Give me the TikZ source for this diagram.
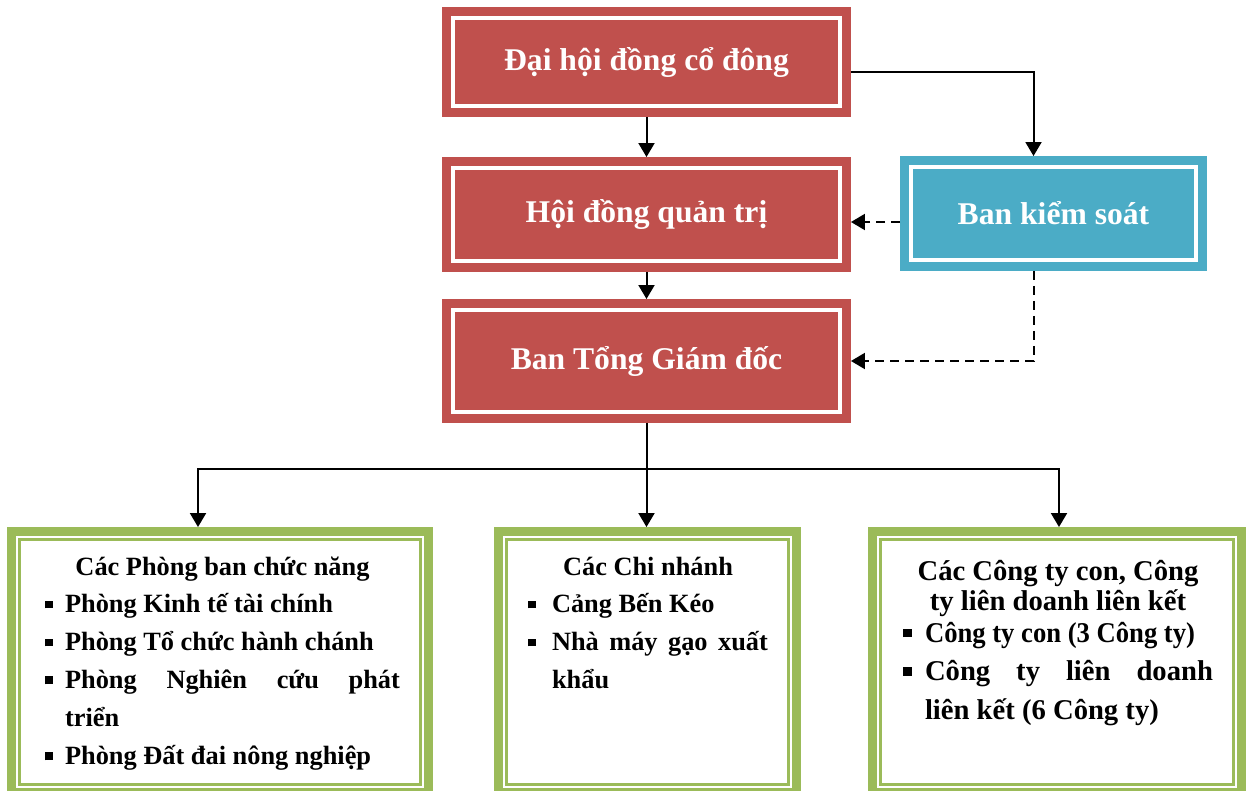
\documentclass[tikz,border=0pt]{standalone}
\usepackage{fontspec}
\setmainfont{Liberation Serif}
\usepackage{tikz}
\definecolor{boxred}{HTML}{C0504D}
\definecolor{boxblue}{HTML}{4BACC6}
\definecolor{boxgreen}{HTML}{9BBB59}
\usetikzlibrary{positioning, arrows.meta}
\tikzstyle{arrow} = [line width=0.04cm,-{Triangle[length=0.28cm,width=0.32cm]}]
\tikzstyle{dasharrow} = [arrow, dash pattern=on 0.18cm off 0.12cm]
\newcommand{\bitem}[2][0.4cm]{\par\hangindent=#1\hangafter=1\noindent\makebox[#1][l]{\rule[0.17em]{0.3em}{0.3em}}#2\par}

\begin{document}
\begin{tikzpicture}[x=0.02cm, y=-0.02cm]
                    \tikzstyle{every node}=[font=\bfseries]
                    \tikzstyle{redbox} = [draw=boxred, fill=boxred, double=white, double distance=0.08cm, line width=0.18cm, outer sep=0.22cm, text=white, minimum width=7.74cm, font=\fontsize{18pt}{21pt}\selectfont\bfseries]
                    \tikzstyle{bluebox} = [redbox, draw=boxblue, fill=boxblue, minimum width=5.7cm]
                    \tikzstyle{greenbox} = [draw=boxgreen, fill=white, line width=0.18cm, outer sep=0.09cm, minimum height=5.22cm]
                    \tikzstyle{list} = [anchor=base, inner sep=0pt, align=justify, font=\fontsize{15pt}{21.6pt}\selectfont\bfseries]

                    \clip (0,0) rectangle (1251,791);

                    \node[redbox, minimum height=1.76cm](dhd) at (646.5,62) {Đại hội đồng cổ đông};
                    \node[redbox, minimum height=1.86cm](hdqt) at (646.5,214.5) {Hội đồng quản trị};
                    \node[redbox, minimum height=2.04cm](tgd) at (646.5,361) {Ban Tổng Giám đốc};
                    \node[bluebox, minimum height=1.86cm](bks) at (1053.5,213.5) {Ban kiểm soát};

                    \node[greenbox, minimum width=8.34cm](pb) at (220,662) {};
                    \node[greenbox, minimum width=5.96cm](cn) at (647.5,662) {};
                    \node[greenbox, minimum width=7.38cm](ct) at (1057,662) {};
                    % thin inner frame
                    \foreach \n in {pb,cn,ct}
                        \draw[boxgreen, line width=0.05cm] ([shift={(0.25cm,-0.25cm)}]\n.north west) rectangle ([shift={(-0.25cm,0.25cm)}]\n.south east);

                    \node[list, text width=7.1cm](pbt) at (222.5,575) {\centerline{Các Phòng ban chức năng}
                        \bitem{Phòng Kinh tế tài chính}
                        \bitem{Phòng Tổ chức hành chánh}
                        \bitem{Phòng Nghiên cứu phát\linebreak triển}
                        \bitem{Phòng Đất đai nông nghiệp}};
                    \node[list, text width=4.8cm](cnt) at (648,575) {\centerline{Các Chi nhánh}
                        \bitem[0.48cm]{Cảng Bến Kéo}
                        \bitem[0.48cm]{Nhà máy gạo xuất\linebreak khẩu}};
                    \node[list, text width=6.2cm, font=\fontsize{16.3pt}{17.6pt}\selectfont\bfseries](ctt) at (1058,580) {\lineskiplimit=-10pt
                        \centerline{Các Công ty con, Công}
                        \centerline{ty liên doanh liên kết}\par\vspace{-4.4pt}\setlength{\baselineskip}{22.1pt}
                        \bitem[0.44cm]{\scalebox{0.93}[1]{Công ty con (3 Công ty)}}
                        \bitem[0.44cm]{Công ty liên doanh\linebreak liên kết (6 Công ty)}};

                    \draw[arrow] (dhd) -- (hdqt);
                    \draw[arrow] (hdqt) -- (tgd);
                    \draw[arrow] ([yshift=-0.2cm]dhd.east) -| ([xshift=-0.4cm]bks.north);
                    \draw[dasharrow] ([yshift=-0.17cm]bks.west) -- ([yshift=-0.17cm]bks.west -| hdqt.east);
                    \draw[dasharrow] ([xshift=-0.4cm]bks.south) |- (tgd.east);

                    \coordinate (bus) at (646.5,469);
                    \draw[arrow] (tgd.south) -- (tgd.south |- cn.north);
                    \draw[arrow] (bus) -| ([xshift=-0.44cm]pb.north);
                    \draw[arrow] (bus) -| ([xshift=0.04cm]ct.north);
            \end{tikzpicture}
\end{document}
